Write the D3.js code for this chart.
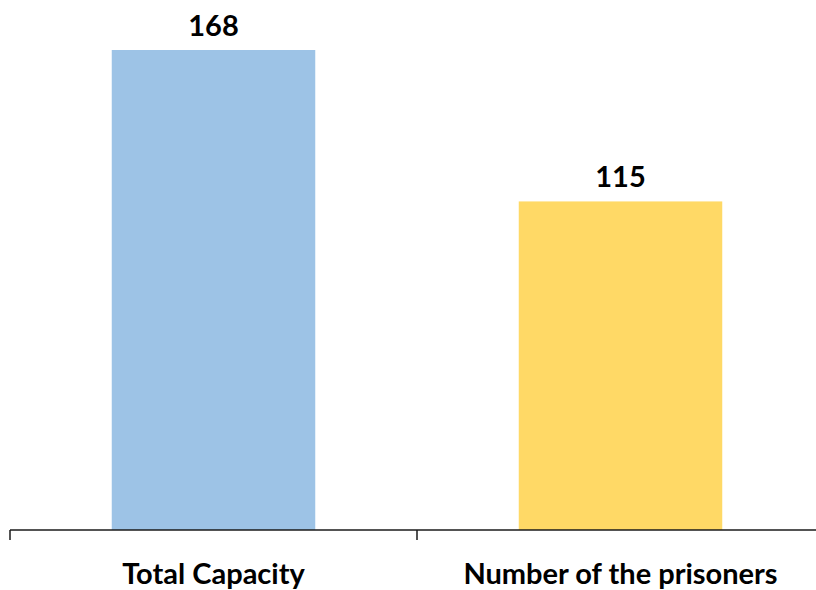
<!DOCTYPE html>
<html>
<head>
<meta charset="utf-8">
<script src="https://cdn.jsdelivr.net/npm/d3@7"></script>
<style>
  html, body { margin: 0; padding: 0; background: #ffffff; }
  svg { display: block; }
  text { font-family: Lato, "Open Sans", sans-serif; font-weight: bold; fill: #000; }
</style>
</head>
<body>
<svg id="chart" width="816" height="590"></svg>
<script>
const categories = ["Total Capacity", "Number of the prisoners"];
const values = [168, 115];
const barColors = ["#9DC3E6", "#FFD966"];

const svg = d3.select("#chart");
const baseY = 530;

const x = d3.scaleBand()
  .domain(categories)
  .range([10, 824])
  .paddingInner(0.5)
  .paddingOuter(0.25);

const y = d3.scaleLinear()
  .domain([0, 180])
  .range([baseY, baseY - 480 * 180 / 168]);

// bars
svg.append("g").selectAll("rect")
  .data(categories)
  .join("rect")
  .attr("x", d => x(d))
  .attr("width", x.bandwidth())
  .attr("y", (d, i) => y(values[i]))
  .attr("height", (d, i) => y(0) - y(values[i]))
  .attr("fill", (d, i) => barColors[i]);

// value labels
svg.append("g").selectAll("text")
  .data(categories)
  .join("text")
  .attr("x", d => x(d) + x.bandwidth() / 2)
  .attr("y", (d, i) => y(values[i]) - 14)
  .attr("text-anchor", "middle")
  .style("font-size", "29px")
  .text((d, i) => values[i]);

// axis: line + boundary ticks
const boundaries = d3.range(categories.length + 1).map(i => x.range()[0] + i * x.step());
const axis = svg.append("g");
axis.append("line")
  .attr("x1", boundaries[0]).attr("x2", boundaries[boundaries.length - 1])
  .attr("y1", baseY).attr("y2", baseY)
  .attr("stroke", "#1a1a1a").attr("stroke-width", 1.5);
axis.selectAll("line.tick")
  .data(boundaries)
  .join("line")
  .attr("class", "tick")
  .attr("x1", d => d).attr("x2", d => d)
  .attr("y1", baseY).attr("y2", baseY + 10)
  .attr("stroke", "#1a1a1a").attr("stroke-width", 1.5);

// category labels
axis.selectAll("text")
  .data(categories)
  .join("text")
  .attr("x", d => x(d) + x.bandwidth() / 2)
  .attr("y", 584)
  .attr("text-anchor", "middle")
  .style("font-size", "29px")
  .text(d => d);
</script>
</body>
</html>
